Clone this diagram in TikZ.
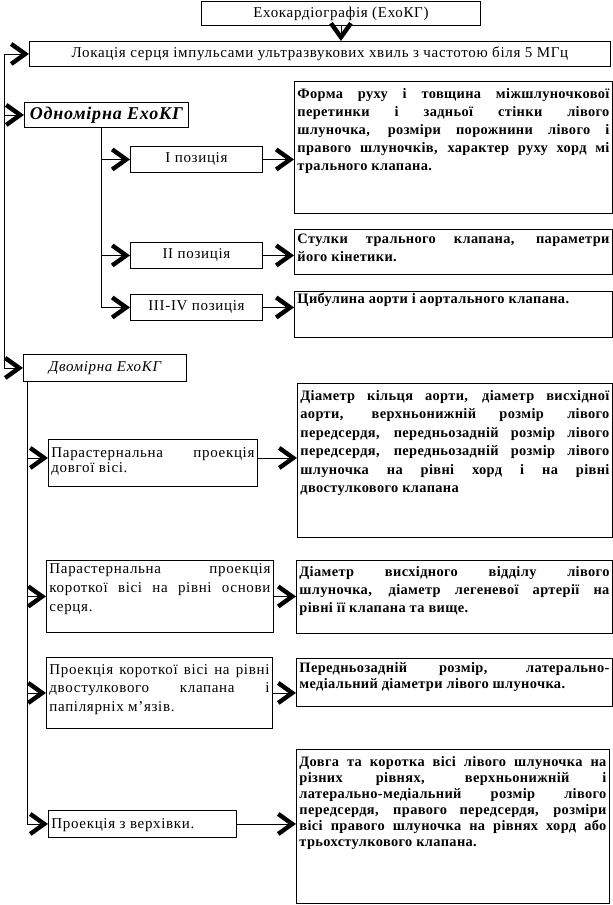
\documentclass[tikz,border=0pt]{standalone}
\usepackage{fontspec}
\setmainfont{Liberation Serif}[LetterSpace=4.5,BoldFeatures={LetterSpace=2.5}]
\usetikzlibrary{arrows.meta}
\newcommand\J[1]{\makebox[\linewidth][s]{#1}\par}
\newcommand\tb[5][15]{\makebox[#2pt]{\parbox[c][#3pt][t]{\dimexpr#2pt-6pt\relax}{\parindent=0pt\parskip=0pt\baselineskip=#4pt\lineskiplimit=-20pt\rule{0pt}{#1pt}#5}}}
\tikzset{
  x=1pt, y=-1pt,
  ln/.style={line width=0.9pt},
  arr/.style={line width=0.9pt, -{Straight Barb[length=14pt,width=20pt,line width=4.4pt,sharp]}},
  box/.style={draw, line width=0.9pt, inner sep=0pt, anchor=north west},
  rg/.style={font=\fontsize{15}{17}\selectfont},
  bd/.style={font=\fontsize{14.4}{18}\selectfont\bfseries},
}
\begin{document}
\begin{tikzpicture}
\useasboundingbox (0,0) rectangle (613,905);
% top level
\node[box, rg, minimum width=279pt, minimum height=24pt] (top) at (201,1) {Ехокардіографія (ЕхоКГ)};
\node[box, rg, minimum width=581pt, minimum height=25pt] (loc) at (29,41) {Локація серця імпульсами ультразвукових хвиль з частотою біля 5 МГц};
\node[box, font=\fontsize{18}{20}\selectfont\bfseries\itshape, minimum width=164pt, minimum height=25pt] (odn) at (24,102) {Одномірна ЕхоКГ};
\node[box, font=\fontsize{15}{18}\selectfont\itshape, minimum width=163pt, minimum height=27pt] (dvo) at (23,354) {Двомірна ЕхоКГ};
% one-dimensional positions
\node[box, rg, minimum width=132pt, minimum height=26pt] (p1) at (130,146) {I позиція};
\node[box, rg, minimum width=132pt, minimum height=26pt] (p2) at (130,242) {II позиція};
\node[box, rg, minimum width=132pt, minimum height=26pt] (p3) at (130,294) {III-IV позиція};
\node[box, bd] (r1) at (294,81) {\tb[17]{318}{132}{18}{\J{Форма руху і товщина міжшлуночкової}\J{перетинки і задньої стінки лівого}\J{шлуночка, розміри порожнини лівого і}\J{правого шлуночків, характер руху хорд мі}трального клапана.}};
\node[box, bd] (r2) at (294,229) {\tb[14]{318}{45}{18}{\J{Стулки трального клапана, параметри}його кінетики.}};
\node[box, bd] (r3) at (294,291) {\tb[12]{318}{46}{18}{Цибулина аорти і аортального клапана.}};
% two-dimensional projections
\node[box, rg] (L1) at (48,439) {\tb[18]{209}{47}{15}{\J{Парастернальна проекція}довгої вісі.}};
\node[box, rg] (L2) at (46,560) {\tb[13]{227}{72}{19}{\J{Парастернальна проекція}\J{короткої вісі на рівні основи}серця.}};
\node[box, rg] (L3) at (46,657) {\tb[17]{226}{71}{18.5}{\J{Проекція короткої вісі на рівні}\J{двостулкового клапана і}папілярніх м’язів.}};
\node[box, rg] (L4) at (48,810) {\tb[18]{188}{27}{17}{Проекція з верхівки.}};
\node[box, bd] (R4) at (297,383) {\tb[17]{315}{154}{18.4}{\J{Діаметр кільця аорти, діаметр висхідної}\J{аорти, верхньонижній розмір лівого}\J{передсердя, передньозадній розмір лівого}\J{передсердя, передньозадній розмір лівого}\J{шлуночка на рівні хорд і на рівні}двостулкового клапана}};
\node[box, bd] (R5) at (296,560) {\tb[16]{316}{73}{18}{\J{Діаметр висхідного відділу лівого}\J{шлуночка, діаметр легеневої артерії на}рівні її клапана та вище.}};
\node[box, bd] (R6) at (296,658) {\tb[14]{316}{48}{16}{\J{Передньозадній розмір, латерально-}медіальний діаметри лівого шлуночка.}};
\node[box, bd] (R7) at (296,749) {\tb[17]{313}{154}{16}{\J{Довга та коротка вісі лівого шлуночка на}\J{різних рівнях, верхньонижній і}\J{латерально-медіальний розмір лівого}\J{передсердя, правого передсердя, розміри}\J{вісі правого шлуночка на рівнях хорд або}трьохстулкового клапана.}};
% connectors
\draw[arr] (top.south) -- (top.south |- loc.north);
\coordinate (a0) at (4,0);
\draw[ln] (a0 |- loc.west) -- (a0 |- dvo.west);
\draw[arr] (a0 |- loc.west) -- (loc.west);
\draw[arr] (a0 |- odn.west) -- (odn.west);
\draw[arr] (a0 |- dvo.west) -- (dvo.west);
\coordinate (b0) at ([xshift=-5pt]odn.south);
\draw[ln] (b0) -- (b0 |- p3.west);
\draw[arr] (b0 |- p1.west) -- (p1.west);
\draw[arr] (b0 |- p2.west) -- (p2.west);
\draw[arr] (b0 |- p3.west) -- (p3.west);
\draw[arr] (p1.east) -- (p1.east -| r1.west);
\draw[arr] (p2.east) -- (p2.east -| r2.west);
\draw[arr] (p3.east) -- (p3.east -| r3.west);
\coordinate (c0) at ([xshift=4pt]dvo.south west);
\draw[ln] (c0) -- (c0 |- L4.west);
\coordinate (l1a) at ([yshift=5pt]L1.west);
\draw[arr] (c0 |- l1a) -- (l1a);
\draw[arr] (l1a -| L1.east) -- (l1a -| R4.west);
\draw[arr] (c0 |- L2.west) -- (L2.west);
\draw[arr] (L2.east) -- (L2.east -| R5.west);
\draw[arr] (c0 |- L3.west) -- (L3.west);
\draw[arr] (L3.east) -- (L3.east -| R6.west);
\draw[arr] (c0 |- L4.west) -- (L4.west);
\draw[arr] (L4.east) -- (L4.east -| R7.west);
\end{tikzpicture}
\end{document}
